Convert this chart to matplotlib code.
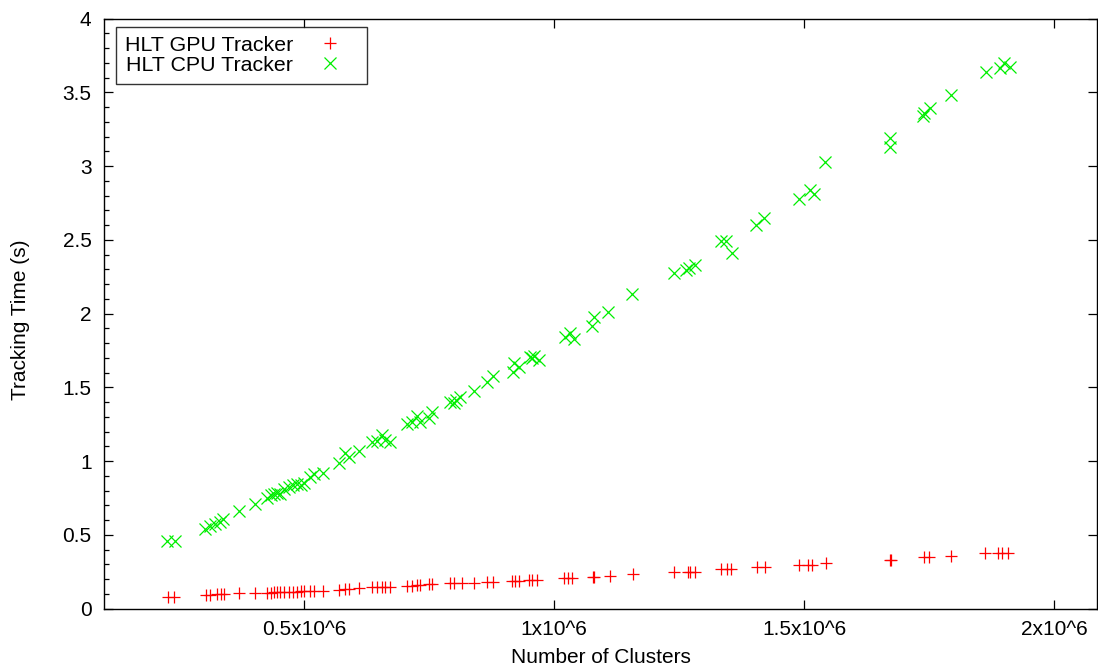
import numpy as np
import matplotlib.pyplot as plt
from matplotlib.ticker import FixedLocator, FuncFormatter, MultipleLocator

plt.rcParams["font.family"] = ["Liberation Sans", "DejaVu Sans"]

# HLT GPU tracker: number of clusters vs. tracking time (s)
gpu_clusters = [
    228000, 240000, 304000, 312000, 325000, 333000, 340000, 370000, 401000,
    425000, 433000, 440000, 445000, 452000, 460000, 469000, 477000, 485000,
    493000, 500000, 511000, 519000, 538000, 569000, 582000, 589000, 609000,
    636000, 646000, 656000, 662000, 672000, 705000, 715000, 725000, 731000,
    749000, 755000, 792000, 799000, 815000, 839000, 865000, 877000,
    915000, 922000, 930000, 950000, 956000, 965000, 1019000, 1027000, 1035000,
    1078000, 1080000, 1112000, 1157000, 1240000, 1268000, 1271000, 1281000,
    1333000, 1345000, 1354000, 1406000, 1421000, 1490000, 1508000, 1516000,
    1543000, 1671000, 1673000, 1739000, 1750000, 1793000, 1861000, 1888000,
    1896000, 1907000,
]
gpu_time = [
    0.077, 0.077, 0.093, 0.093, 0.098, 0.098, 0.098, 0.104, 0.104,
    0.108, 0.108, 0.110, 0.110, 0.112, 0.112, 0.114, 0.115, 0.116,
    0.117, 0.118, 0.119, 0.120, 0.122, 0.127, 0.131, 0.131, 0.138,
    0.149, 0.149, 0.150, 0.150, 0.150, 0.154, 0.156, 0.161, 0.161,
    0.165, 0.167, 0.172, 0.172, 0.172, 0.175, 0.183, 0.183,
    0.190, 0.190, 0.190, 0.193, 0.193, 0.193, 0.206, 0.206, 0.206,
    0.218, 0.218, 0.222, 0.235, 0.247, 0.251, 0.251, 0.251,
    0.266, 0.266, 0.266, 0.281, 0.281, 0.298, 0.298, 0.298,
    0.312, 0.332, 0.332, 0.350, 0.350, 0.359, 0.376, 0.381,
    0.381, 0.381,
]

# HLT CPU tracker: number of clusters vs. tracking time (s)
cpu_clusters = [
    226000, 242000, 302000, 312000, 322000, 332000, 337000, 370000, 401000,
    425000, 433000, 440000, 445000, 452000, 460000, 469000, 477000, 485000,
    493000, 500000, 511000, 519000, 537000, 569000, 582000, 589000, 609000,
    636000, 646000, 656000, 662000, 672000, 705000, 715000, 725000, 731000,
    749000, 755000, 792000, 799000, 804000, 812000, 839000, 865000, 877000,
    917000, 920000, 929000, 951000, 955000, 959000, 969000, 1022000, 1032000,
    1039000, 1075000, 1080000, 1107000, 1155000, 1240000, 1264000, 1269000,
    1281000, 1333000, 1344000, 1355000, 1404000, 1420000, 1490000, 1511000,
    1520000, 1542000, 1671000, 1672000, 1737000, 1740000, 1752000, 1794000,
    1864000, 1891000, 1900000, 1911000,
]
cpu_time = [
    0.459, 0.459, 0.538, 0.561, 0.574, 0.590, 0.608, 0.662, 0.708,
    0.748, 0.771, 0.778, 0.786, 0.778, 0.809, 0.827, 0.839, 0.845,
    0.839, 0.850, 0.891, 0.913, 0.922, 0.986, 1.054, 1.031, 1.069,
    1.132, 1.139, 1.178, 1.144, 1.132, 1.250, 1.268, 1.308, 1.268,
    1.291, 1.336, 1.403, 1.393, 1.415, 1.437, 1.478, 1.539, 1.578,
    1.607, 1.664, 1.641, 1.708, 1.698, 1.713, 1.686, 1.844, 1.867,
    1.826, 1.917, 1.980, 2.014, 2.134, 2.278, 2.296, 2.308,
    2.330, 2.493, 2.493, 2.414, 2.601, 2.647, 2.776, 2.839,
    2.811, 3.026, 3.128, 3.189, 3.340, 3.359, 3.397, 3.483,
    3.637, 3.664, 3.702, 3.675,
]

x_ticks = [0.5e6, 1e6, 1.5e6, 2e6]
x_tick_labels = ["0.5x10^6", "1x10^6", "1.5x10^6", "2x10^6"]

W, H = 1098, 671
fig = plt.figure(figsize=(W / 100, H / 100), dpi=100)
left, right, top, bottom = 104, 1097, 18.7, 608.7
ax = fig.add_axes([left / W, 1 - bottom / H, (right - left) / W, (bottom - top) / H])

ax.plot(gpu_clusters, gpu_time, linestyle="none", marker="+", color="#ff0000",
        markersize=9, markeredgewidth=0.9, label="HLT GPU Tracker")
ax.plot(cpu_clusters, cpu_time, linestyle="none", marker="x", color="#00ee00",
        markersize=8, markeredgewidth=0.9, label="HLT CPU Tracker")

ax.set_xlim(1e5, 1e5 + (right - left) * 2000)
ax.set_ylim(0, 4)

ax.xaxis.set_major_locator(FixedLocator(x_ticks))
ax.set_xticklabels(x_tick_labels)
ax.yaxis.set_major_locator(MultipleLocator(0.5))
ax.yaxis.set_minor_locator(MultipleLocator(0.1))
ax.yaxis.set_major_formatter(FuncFormatter(lambda v, p: f"{v:g}"))

ax.tick_params(which="major", direction="in", length=6.5, width=0.9,
               top=True, right=True, labelsize=15, colors="#000000", pad=8)
ax.tick_params(which="minor", direction="in", length=3.5, width=0.9,
               left=True, right=False)
ax.tick_params(axis="y", pad=9)
for s in ax.spines.values():
    s.set_linewidth(1.0)

ax.set_xlabel("Number of Clusters", fontsize=15)
ax.set_ylabel("Tracking Time (s)", fontsize=15)
ax.xaxis.set_label_coords(0.5, -0.066)
ax.yaxis.set_label_coords(-0.075, 0.49)

# gnuplot-style key: label first, sample to the right
leg = ax.legend(loc="upper left", bbox_to_anchor=(0.0118, 0.9864),
                markerfirst=False, fontsize=15.4, frameon=True, fancybox=False,
                borderaxespad=0, handlelength=2.6, handletextpad=0.42,
                borderpad=0.42, labelspacing=0.05)
leg.get_frame().set_edgecolor("#000000")
leg.get_frame().set_linewidth(1.0)

fig.savefig("out.png", dpi=100)
